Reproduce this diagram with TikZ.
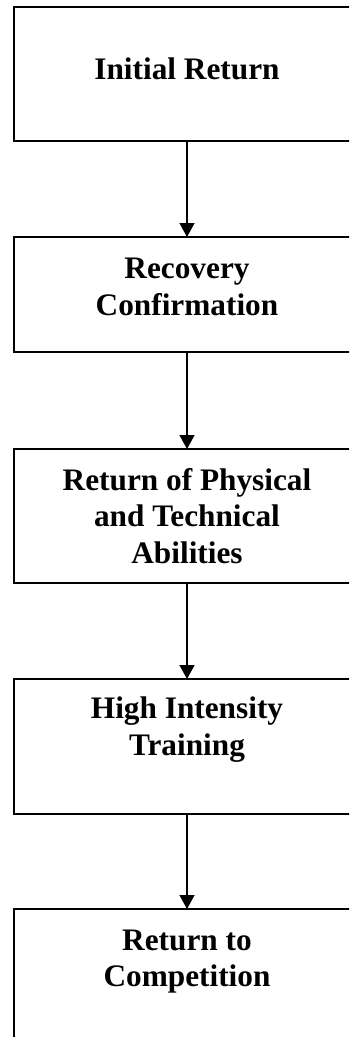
\documentclass[tikz,border=0pt]{standalone}
\usepackage{fontspec}
\setmainfont{Liberation Serif}
\usetikzlibrary{arrows.meta}
\begin{document}
\begin{tikzpicture}[x=1pt,y=-1pt,
  stagebox/.style={draw=black, line width=2pt, rectangle, inner sep=0pt, outer sep=0pt,
    minimum width=346pt, anchor=north west},
  txt/.style={anchor=base, inner sep=0pt, font=\fontsize{31.3pt}{36.7pt}\selectfont\bfseries},
  flow/.style={draw=black, line width=1.3pt, -{Triangle[length=14pt,width=15pt]}}]
\useasboundingbox (0,0) rectangle (349,1037);
\clip (0,0) rectangle (349,1037);
\node[stagebox, minimum height=134pt] (b1) at (14,7) {};
\node[stagebox, minimum height=115pt] (b2) at (14,237) {};
\node[stagebox, minimum height=134pt] (b3) at (14,449) {};
\node[stagebox, minimum height=135pt] (b4) at (14,679) {};
\node[stagebox, minimum height=200pt] (b5) at (14,909) {};
\node[txt] (t1) at (187,79.3) {Initial Return};
\node[txt] (t2a) at (187,278.3) {Recovery};
\node[txt] (t2b) at (187,315) {Confirmation};
\node[txt] (t3a) at (187,490) {Return of Physical};
\node[txt] (t3b) at (187,526.7) {and Technical};
\node[txt] (t3c) at (187,563.3) {Abilities};
\node[txt] (t4a) at (187,718.3) {High Intensity};
\node[txt] (t4b) at (187,755) {Training};
\node[txt] (t5a) at (187,950) {Return to};
\node[txt] (t5b) at (187,986.7) {Competition};
\draw[flow] (b1.south) -- (b2.north);
\draw[flow] (b2.south) -- (b3.north);
\draw[flow] (b3.south) -- (b4.north);
\draw[flow] (b4.south) -- (b5.north);
\end{tikzpicture}
\end{document}
